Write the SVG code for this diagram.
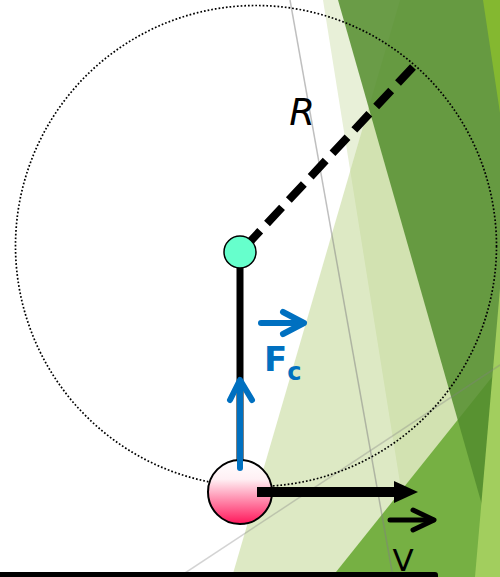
<svg xmlns="http://www.w3.org/2000/svg" width="500" height="577" viewBox="0 0 500 577">
<style>
.blue{stroke:#0070c0;stroke-width:6;stroke-linecap:round;stroke-linejoin:round;fill:none}
.blk{stroke:#000;fill:none}
.lbl{font-family:"DejaVu Sans","Liberation Sans",sans-serif}
</style>
<defs>
<linearGradient id="ballg" x1="0" y1="0" x2="0" y2="1">
<stop offset="0" stop-color="#ffffff"/>
<stop offset="0.3" stop-color="#fff0f4"/>
<stop offset="1" stop-color="#ff165a"/>
</linearGradient>
</defs>
<rect width="500" height="577" fill="#ffffff"/>
<g id="background">
<polygon points="323,0 560,0 560,577 415,577" fill="#e8f0d8"/>
<polygon points="400,0 560,0 560,577 232,577" fill="#bcd48a" fill-opacity="0.5"/>
<polygon points="332,577 500,367 500,577" fill="#76b043"/>
<polygon points="338,0 526,0 482,505" fill="#548d2e" fill-opacity="0.85"/>
<polygon points="483,0 500,0 500,113" fill="#84b830"/>
<polygon points="501,277 475,577 500,577" fill="#a2ce5e"/>
<line x1="290" y1="0" x2="393" y2="577" stroke="#808080" stroke-opacity="0.5" stroke-width="1.5"/>
<line x1="179" y1="577" x2="500" y2="365" stroke="#808080" stroke-opacity="0.35" stroke-width="1.5"/>
</g>
<g id="orbit">
<circle cx="256" cy="246" r="240.5" fill="none" stroke="#000" stroke-width="1.7" stroke-dasharray="1.7 2"/>
</g>
<g id="connectors">
<line id="rod" x1="240" y1="260" x2="240" y2="470" class="blk" stroke-width="7"/>
<line id="radius" x1="413" y1="67" x2="246" y2="246" class="blk" stroke-width="8" stroke-dasharray="22 10"/>
</g>
<g id="pivot">
<circle cx="240" cy="252" r="16" fill="#66ffcc" stroke="#000" stroke-width="1.5"/>
</g>
<g id="ball">
<circle cx="240" cy="492" r="32" fill="url(#ballg)" stroke="#000" stroke-width="2"/>
</g>
<g id="arrows">
<g id="force-arrow">
<line x1="240" y1="468" x2="240" y2="382" class="blue"/>
<polyline points="230,400 240,380 252,400" class="blue"/>
</g>
<g id="velocity-arrow">
<line x1="257" y1="492" x2="396" y2="492" class="blk" stroke-width="10"/>
<polygon points="394,481 418,492 394,503" fill="#000"/>
</g>
</g>
<g id="label-R">
<text x="302" y="125" class="lbl" font-size="37" font-style="italic" text-anchor="middle" fill="#000">R</text>
</g>
<g id="label-Fc">
<line x1="261" y1="323" x2="302" y2="323" class="blue"/>
<polyline points="283,312 304,323 283,334" class="blue"/>
<text x="264" y="371" class="lbl" font-size="34" font-weight="bold" fill="#0070c0">F<tspan font-size="24" dy="9">c</tspan></text>
</g>
<g id="baseline">
<rect x="-5" y="572" width="443" height="10" rx="3" fill="#000"/>
</g>
<g id="label-V">
<line x1="390" y1="520" x2="433" y2="520" class="blk" stroke-width="5" stroke-linecap="round"/>
<polyline points="413,510 434,520 413,530" class="blk" stroke-width="5" stroke-linecap="round" stroke-linejoin="round"/>
<text x="403" y="571" class="lbl" font-size="31" text-anchor="middle" fill="#000">V</text>
</g>
</svg>
